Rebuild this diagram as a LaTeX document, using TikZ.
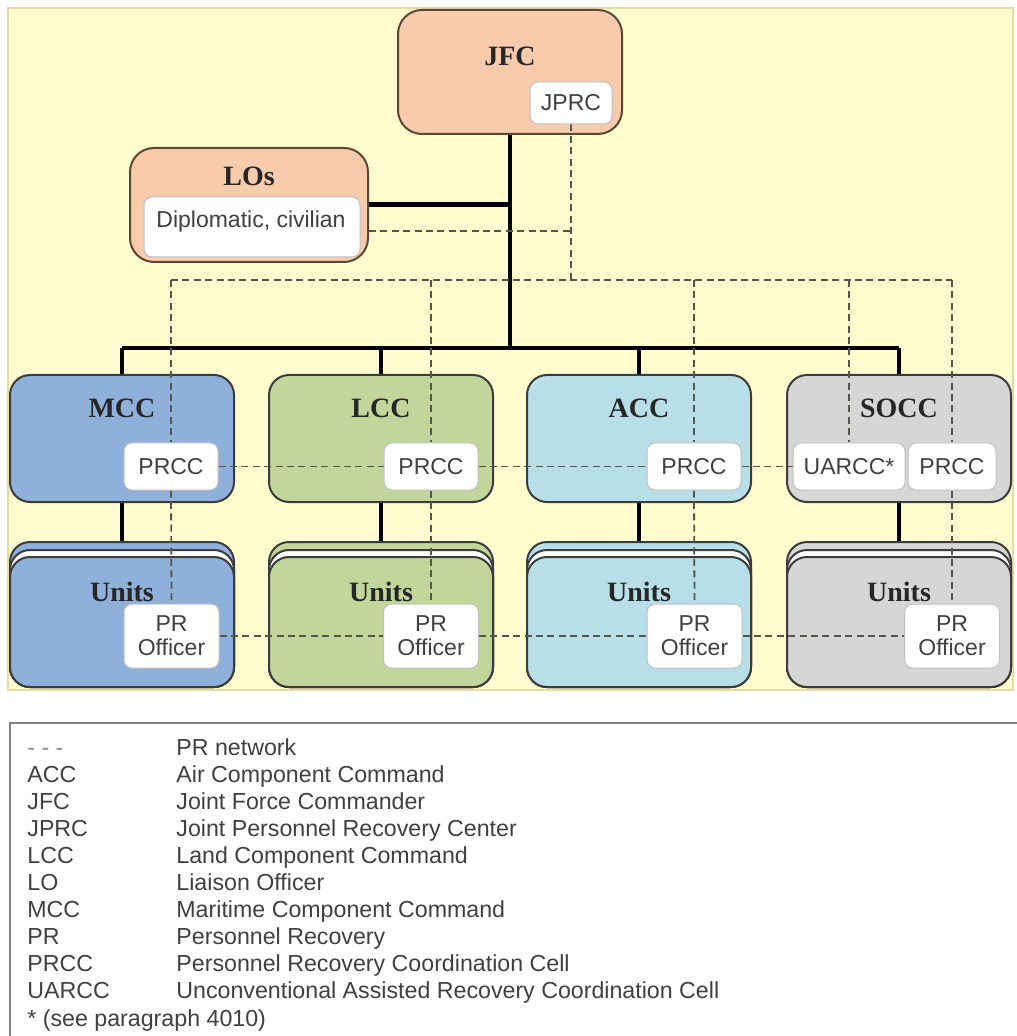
\documentclass[tikz,border=0pt]{standalone}
\usepackage{fontspec}
\setmainfont{Liberation Serif}
\setsansfont{Liberation Sans}
\definecolor{bgy}{HTML}{FFFCD0}
\definecolor{bgb}{HTML}{E6DAA6}
\definecolor{peach}{HTML}{F8CBAD}
\definecolor{mccc}{HTML}{8EB0DB}
\definecolor{lccc}{HTML}{C2D69B}
\definecolor{accc}{HTML}{B8DEE8}
\definecolor{soccc}{HTML}{D6D6D6}
\definecolor{edge}{HTML}{3C3C3C}
\definecolor{pedge}{HTML}{5C4636}
\definecolor{netc}{HTML}{55564A}
\definecolor{txt}{HTML}{404040}
\pgfdeclarelayer{L0}\pgfdeclarelayer{L1}\pgfdeclarelayer{L2}
\pgfsetlayers{L0,L1,L2,main}
\begin{document}
\begin{tikzpicture}[x=0.5pt,y=-0.5pt,
  title/.style={font=\bfseries\fontsize{14}{16}\selectfont, text=black!85, inner sep=0},
  cell/.style={draw=black!25, fill=white, rounded corners=4pt, line width=0.5pt, inner sep=0,
    font=\sffamily\fontsize{11.5}{12}\selectfont, text=txt, align=center},
  comp/.style={draw=edge, line width=1pt, rounded corners=10pt, minimum width=112pt, minimum height=63.5pt, inner sep=0},
  ubox/.style={draw=edge, line width=1pt, rounded corners=10pt, minimum width=112pt, anchor=south, inner sep=0},
  hq/.style={draw=pedge, fill=peach, line width=1pt, rounded corners=12pt, inner sep=0},
  trunk/.style={draw=black, line width=2pt},
  drop/.style={draw=black, line width=1.6pt},
  net/.style={draw=netc, line width=0.9pt, dash pattern=on 3.5pt off 2.2pt},
  legtxt/.style={anchor=base west, font=\sffamily\fontsize{11.6}{13}\selectfont, text=txt, inner sep=0}
]
\useasboundingbox (0,0) rectangle (1016,1036);
\begin{pgfonlayer}{L0}
\fill[white] (0,0) rectangle (1016,1036);
\draw[fill=bgy, draw=bgb, line width=1pt] (8,8) rectangle (1013,690);
\end{pgfonlayer}

% top level
\begin{pgfonlayer}{L1}
\node[hq, minimum width=112pt, minimum height=62pt] (jfc) at (510,72) {};
\node[hq, minimum width=119pt, minimum height=57pt] (los) at (249,205) {};
\end{pgfonlayer}
\node[title] (jfct) at (510,56) {JFC};
\node[title] (lost) at (249,176) {LOs};
\node[cell, minimum width=41pt, minimum height=21pt] (jprc) at (571,103) {JPRC};
\node[cell, minimum width=108pt, minimum height=30pt] (dipl) at (252,227) {};
\node[cell, draw=none, fill=none] (diplt) at (251,222) {Diplomatic, civilian};

% components
\foreach \n/\c/\x/\t in {mcc/mccc/122/MCC, lcc/lccc/381/LCC, acc/accc/639/ACC, socc/soccc/899/SOCC}{
  \begin{pgfonlayer}{L1}
  \node[comp, fill=\c] (\n) at (\x,438.5) {};
  \node[ubox, fill=\c, minimum height=72.5pt] (\n u1) at (\x,688) {};
  \node[ubox, fill=white, minimum height=68.5pt] (\n u2) at (\x,688) {};
  \node[ubox, fill=\c, minimum height=65pt] (\n u) at (\x,688) {};
  \end{pgfonlayer}
  \node[title] (\n t) at (\x,408) {\t};
  \node[title] (\n ut) at (\x,592) {Units};
}

% cells
\node[cell, minimum width=47pt, minimum height=23.5pt] (mccp) at (171,466.5) {PRCC};
\node[cell, minimum width=47pt, minimum height=23.5pt] (lccp) at (431,466.5) {PRCC};
\node[cell, minimum width=47pt, minimum height=23.5pt] (accp) at (694,466.5) {PRCC};
\node[cell, minimum width=56pt, minimum height=23.5pt] (uarcc) at (849,466.5) {UARCC*};
\node[cell, minimum width=44pt, minimum height=23.5pt] (soccp) at (952,466.5) {PRCC};
\foreach \n/\x in {mcc/171.5, lcc/431, acc/694.5, socc/952}{
  \node[cell, minimum width=47.5pt, minimum height=32pt] (\n o) at (\x,636) {PR\\Officer};
}

% command lines
\coordinate (bus) at (510,348);
\coordinate (busl) at (122,348);
\coordinate (busr) at (899,348);
\coordinate (losj) at (510,205);
\begin{pgfonlayer}{L0}
\draw[trunk] (jfc.south) -- (bus);
\draw[trunk] (busl) -- (busr);
\draw[draw=black, line width=2.5pt] (los.east) -- (losj);
\foreach \n in {mcc,lcc,acc,socc}{
  \draw[drop] (\n.north |- bus) -- (\n.north);
  \draw[drop] (\n.south) -- (\n u1.north);
}
\end{pgfonlayer}

% PR network
\coordinate (nj) at (571,280);
\coordinate (nl) at (171,280);
\coordinate (nr) at (952,280);
\coordinate (lj) at (571,231);
\begin{pgfonlayer}{L2}
\draw[net] (jprc.south) -- (nj);
\draw[net] (los.east |- lj) -- (lj);
\draw[net] (nl) -- (nr);
\draw[net] (mccp.north |- nl) -- (mccp.north);
\draw[net] (lccp.north |- nl) -- (lccp.north);
\draw[net] (accp.north |- nl) -- (accp.north);
\draw[net] (uarcc.north |- nl) -- (uarcc.north);
\draw[net] (soccp.north |- nl) -- (soccp.north);
\draw[net] (mccp.south) -- (mcco.north);
\draw[net] (lccp.south) -- (lcco.north);
\draw[net] (accp.south) -- (acco.north);
\draw[net] (soccp.south) -- (socco.north);
\draw[net] (mccp.east) -- (lccp.west);
\draw[net] (lccp.east) -- (accp.west);
\draw[net] (accp.east) -- (uarcc.west);
\draw[net] (mcco.east) -- (lcco.west);
\draw[net] (lcco.east) -- (acco.west);
\draw[net] (acco.east) -- (socco.west);
\end{pgfonlayer}

% legend
\draw[draw=black!50, line width=0.8pt] (10,1040) -- (10,723) -- (1030,723);
\node[legtxt, text=black!45] (k0) at (27,755) {- - -};
\node[legtxt] (d0) at (176,755) {PR network};
\foreach \a/\b [count=\i] in {ACC/Air Component Command, JFC/Joint Force Commander,
  JPRC/Joint Personnel Recovery Center, LCC/Land Component Command, LO/Liaison Officer,
  MCC/Maritime Component Command, PR/Personnel Recovery, PRCC/Personnel Recovery Coordination Cell,
  UARCC/Unconventional Assisted Recovery Coordination Cell}{
  \node[legtxt] (k\i) at (27,{755+27.1*\i}) {\a};
  \node[legtxt] (d\i) at (176,{755+27.1*\i}) {\b};
}
\node[legtxt] (note) at (27,1026) {* (see paragraph 4010)};
\end{tikzpicture}
\end{document}
